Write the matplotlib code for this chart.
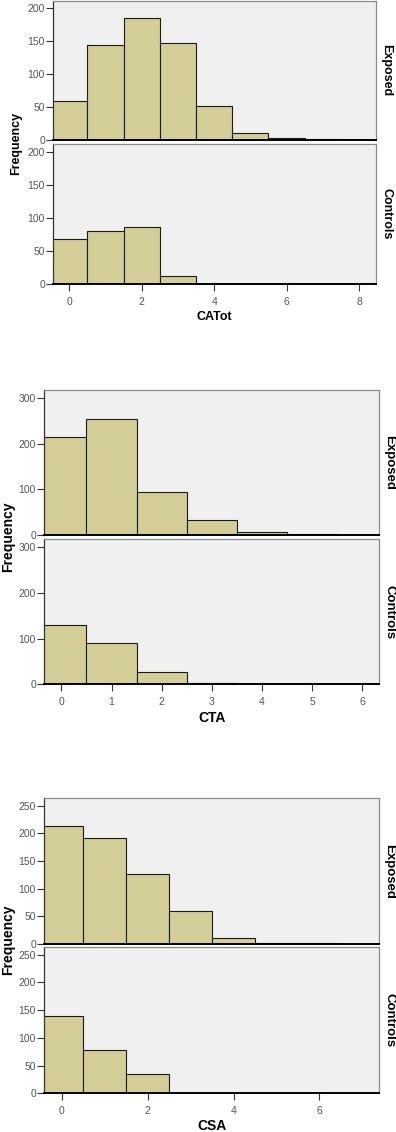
import matplotlib
matplotlib.use("Agg")
import matplotlib.pyplot as plt

# ---- data ----
cat_exposed = [59, 145, 185, 147, 51, 11, 3, 1]
cat_controls = [69, 80, 87, 13, 1]
cta_exposed = [215, 253, 94, 34, 7, 2]
cta_controls = [130, 91, 26, 2]
csa_exposed = [214, 191, 126, 60, 10, 2, 1]
csa_controls = [140, 78, 34, 1]

panel_labels = ["Exposed", "Controls"]
x_labels = ["CATot", "CTA", "CSA"]
cat_yticks = [0, 50, 100, 150, 200]
cta_yticks = [0, 100, 200, 300]
csa_yticks = [0, 50, 100, 150, 200, 250]
cat_xticks = [0, 2, 4, 6, 8]
cta_xticks = [0, 1, 2, 3, 4, 5, 6]
csa_xticks = [0, 2, 4, 6]

W, H = 396, 1132
plt.rcParams['font.family'] = ['Liberation Sans', 'DejaVu Sans']
fig = plt.figure(figsize=(W / 100, H / 100), dpi=100)
fig.patch.set_facecolor('white')

BAR = '#D3CE97'
BG = '#F0F0F0'


def rect(l, t, r, b):
    return [l / W, 1 - b / H, (r - l) / W, (b - t) / H]


def panel(box, values, xlim, ylim, yticks, xticks, bottom, label, lab_x, lab_fs):
    ax = fig.add_axes(rect(*box))
    ax.set_facecolor(BG)
    xs = list(range(len(values)))
    ax.bar(xs, values, width=1.0, color=BAR, edgecolor='#1a1a1a', linewidth=0.8, zorder=2)
    ax.set_xlim(*xlim)
    ax.set_ylim(*ylim)
    ax.set_yticks(yticks)
    ax.set_yticklabels([str(v) for v in yticks], fontsize=7.5, color='#555555')
    ax.tick_params(axis='y', direction='out', length=5, width=0.8, color='#333333', pad=1)
    if bottom:
        ax.set_xticks(xticks)
        ax.set_xticklabels([str(v) for v in xticks], fontsize=7.5, color='#555555')
        ax.tick_params(axis='x', direction='out', length=5, width=0.8, color='#333333', pad=4)
    else:
        ax.set_xticks([])
    for s in ['top', 'right']:
        ax.spines[s].set_color('#8a8a8a')
        ax.spines[s].set_linewidth(0.9)
    ax.spines['left'].set_color('#333333')
    ax.spines['left'].set_linewidth(0.9)
    ax.spines['bottom'].set_color('black')
    ax.spines['bottom'].set_linewidth(1.4)
    t, b = box[1], box[3]
    fig.text(lab_x / W, 1 - ((t + b) / 2) / H, label, rotation=270, fontsize=lab_fs,
             fontweight='bold', ha='center', va='center')
    return ax


charts = [
    dict(ex=cat_exposed, co=cat_controls, l=53.3, r=375.7,
         top=(0.5, 140), bot=(144, 284.3), xlim=(-0.44, 8.46), ylim=(0, 212),
         yt=cat_yticks, xt=cat_xticks, xlab=x_labels[0], xlab_y=317,
         freq=(16, 143), lab_x=386, fs=9, lab_fs=9),
    dict(ex=cta_exposed, co=cta_controls, l=44.3, r=379,
         top=(390, 535.3), bot=(539.3, 684.3), xlim=(-0.34, 6.33), ylim=(0, 317),
         yt=cta_yticks, xt=cta_xticks, xlab=x_labels[1], xlab_y=718,
         freq=(8, 537), lab_x=389.5, fs=10, lab_fs=9.5),
    dict(ex=csa_exposed, co=csa_controls, l=44.3, r=379,
         top=(798.3, 943.7), bot=(947.3, 1093.3), xlim=(-0.41, 7.39), ylim=(0, 263.5),
         yt=csa_yticks, xt=csa_xticks, xlab=x_labels[2], xlab_y=1126,
         freq=(8, 940), lab_x=389.5, fs=10, lab_fs=9.5),
]

for c in charts:
    panel((c['l'], c['top'][0], c['r'], c['top'][1]), c['ex'], c['xlim'], c['ylim'],
          c['yt'], c['xt'], False, panel_labels[0], c['lab_x'], c['lab_fs'])
    panel((c['l'], c['bot'][0], c['r'], c['bot'][1]), c['co'], c['xlim'], c['ylim'],
          c['yt'], c['xt'], True, panel_labels[1], c['lab_x'], c['lab_fs'])
    fig.text(((c['l'] + c['r']) / 2) / W, 1 - c['xlab_y'] / H, c['xlab'], fontsize=c['fs'],
             fontweight='bold', ha='center', va='center')
    fig.text(c['freq'][0] / W, 1 - c['freq'][1] / H, 'Frequency', rotation=90,
             fontsize=c['fs'], fontweight='bold', ha='center', va='center')

fig.savefig('out.png', dpi=100, facecolor='white')
